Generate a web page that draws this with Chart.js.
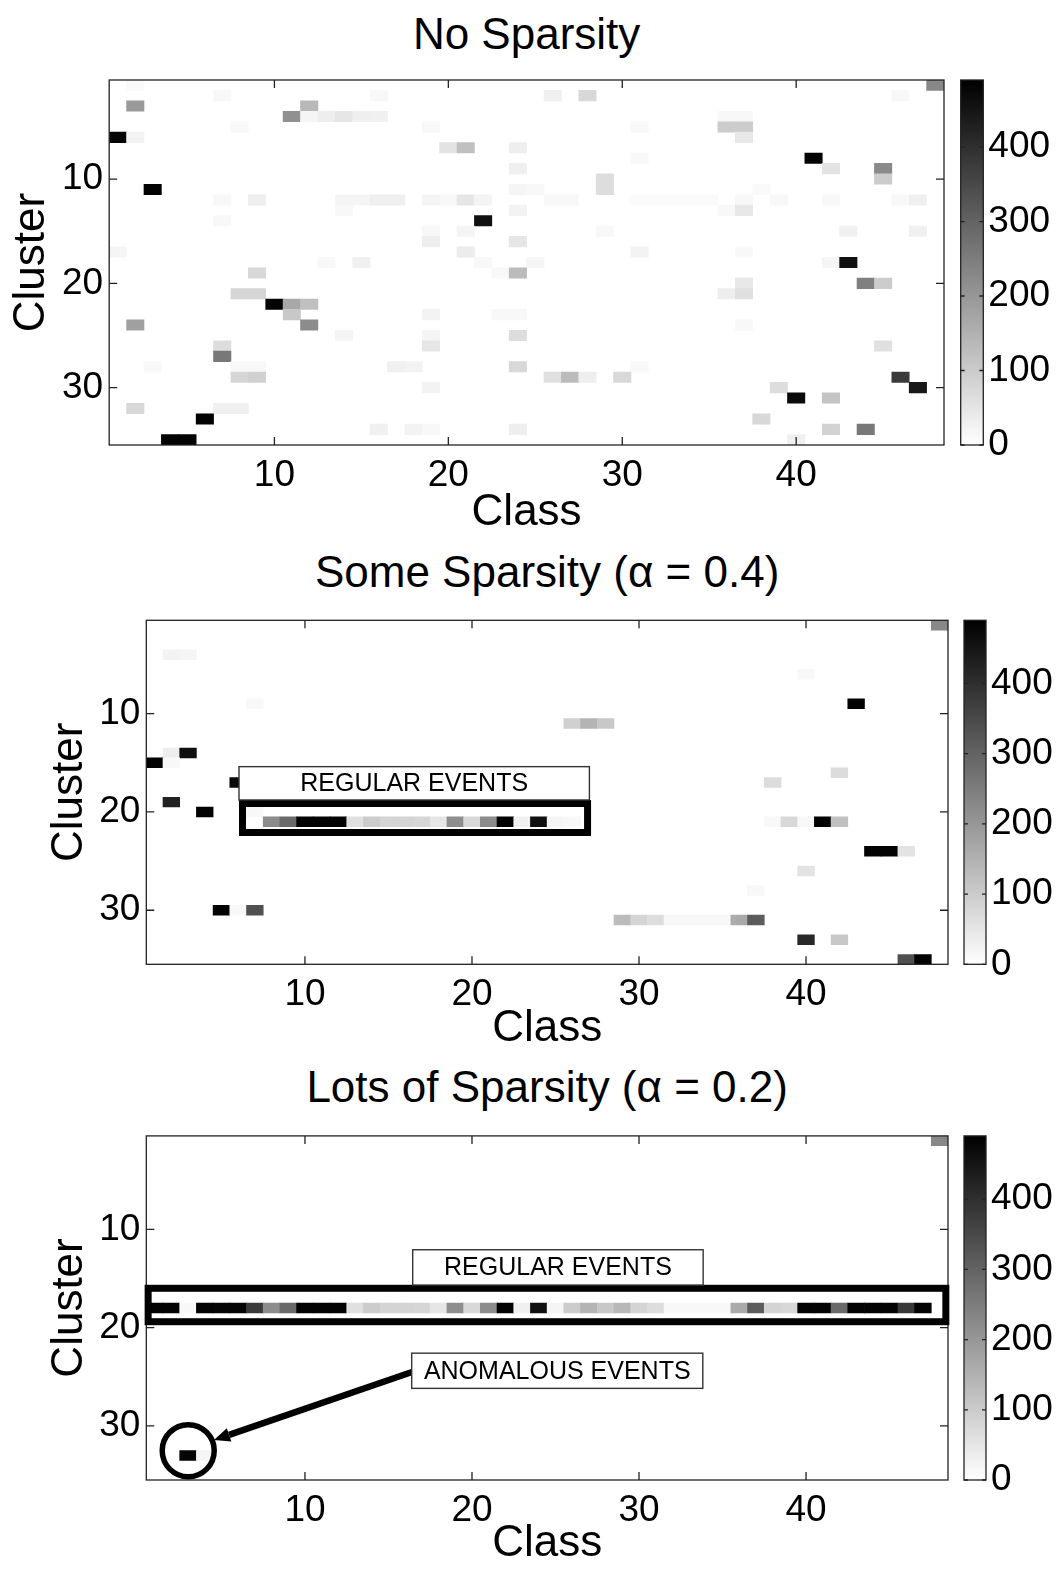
<!DOCTYPE html>
<html>
<head>
<meta charset="utf-8">
<title>Cluster vs class counts</title>
<script src="https://cdn.jsdelivr.net/npm/chart.js@4.4.0/dist/chart.umd.min.js"></script>
<style>
  body { margin: 0; background: #fff; }
  #page { position: relative; width: 1061px; height: 1574px; font-family: "Liberation Sans", Arial, sans-serif; }
  canvas { position: absolute; }
  .ttl { position: absolute; transform: translate(-50%, -50%); font-size: 44px; line-height: 1; white-space: nowrap; color: #000; }
</style>
</head>
<body>
<div id="page"></div>
<script>
// axes
const CLASS_TICKS = [10, 20, 30, 40];
const CLUSTER_TICKS = [10, 20, 30];
const COUNT_TICKS = [0, 100, 200, 300, 400];
const COUNT_MAX = 490;
const NUM_CLASSES = 48;
const NUM_CLUSTERS = 35;

const panelTitles = ["No Sparsity", "Some Sparsity (\u03b1 = 0.4)", "Lots of Sparsity (\u03b1 = 0.2)"];

// [class, cluster, count]
const noSparsity = [
  [2, 1, 10], [48, 1, 229],
  [7, 2, 13], [16, 2, 13], [26, 2, 29], [28, 2, 75], [46, 2, 13],
  [2, 3, 194], [12, 3, 136],
  [11, 4, 213], [12, 4, 19], [13, 4, 33], [14, 4, 48], [15, 4, 31], [16, 4, 29], [36, 4, 13], [37, 4, 13],
  [8, 5, 13], [19, 5, 13], [31, 5, 13], [36, 5, 98], [37, 5, 98],
  [1, 6, 480], [2, 6, 23], [37, 6, 44],
  [20, 7, 54], [21, 7, 121], [24, 7, 33],
  [31, 8, 13], [41, 8, 485],
  [24, 9, 31], [42, 9, 54], [45, 9, 225],
  [29, 10, 65], [45, 10, 98],
  [3, 11, 485], [24, 11, 19], [25, 11, 13], [29, 11, 65], [38, 11, 10],
  [7, 12, 13], [9, 12, 33], [14, 12, 19], [15, 12, 19], [16, 12, 31], [17, 12, 31], [19, 12, 19],
  [20, 12, 13], [21, 12, 48], [22, 12, 21], [26, 12, 13], [27, 12, 13], [31, 12, 10], [32, 12, 10],
  [33, 12, 10], [34, 12, 10], [35, 12, 10], [37, 12, 13], [39, 12, 13], [42, 12, 13], [46, 12, 13], [47, 12, 29],
  [14, 13, 13], [24, 13, 23], [36, 13, 13], [37, 13, 44],
  [7, 14, 13], [22, 14, 459],
  [19, 15, 13], [21, 15, 21], [29, 15, 13], [43, 15, 29], [47, 15, 29],
  [19, 16, 33], [24, 16, 48],
  [1, 17, 19], [21, 17, 37], [31, 17, 23], [37, 17, 13],
  [13, 18, 13], [15, 18, 29], [22, 18, 13], [25, 18, 19], [42, 18, 19], [43, 18, 459],
  [9, 19, 75], [23, 19, 13], [24, 19, 131],
  [37, 20, 44], [44, 20, 244], [45, 20, 98],
  [8, 21, 79], [9, 21, 79], [36, 21, 33], [37, 21, 60],
  [10, 22, 485], [11, 22, 167], [12, 22, 121],
  [11, 23, 106], [19, 23, 23], [23, 23, 13], [24, 23, 13],
  [2, 24, 183], [12, 24, 221], [37, 24, 13],
  [14, 25, 19], [19, 25, 19], [24, 25, 65],
  [7, 26, 65], [19, 26, 48], [45, 26, 60],
  [7, 27, 259],
  [3, 28, 13], [8, 28, 13], [9, 28, 13], [17, 28, 29], [18, 28, 23], [24, 28, 75], [31, 28, 13],
  [8, 29, 79], [9, 29, 90], [26, 29, 60], [27, 29, 131], [28, 29, 33], [30, 29, 75], [46, 29, 379],
  [19, 30, 23], [39, 30, 65], [47, 30, 444],
  [40, 31, 470], [42, 31, 113],
  [2, 32, 75], [7, 32, 29], [8, 32, 29],
  [6, 33, 485], [38, 33, 75],
  [16, 34, 29], [18, 34, 23], [19, 34, 13], [24, 34, 33], [42, 34, 86], [44, 34, 259],
  [4, 35, 485], [5, 35, 485], [40, 35, 29]
];

const someSparsity = [
  [48, 1, 229],
  [2, 4, 23], [3, 4, 19],
  [40, 6, 13],
  [7, 9, 13], [43, 9, 485],
  [26, 11, 90], [27, 11, 144], [28, 11, 106],
  [2, 14, 33], [3, 14, 459],
  [1, 15, 485], [2, 15, 13],
  [42, 16, 67],
  [6, 17, 470], [38, 17, 67],
  [2, 19, 425],
  [4, 20, 485], [7, 20, 13],
  [8, 21, 221], [9, 21, 286], [10, 21, 485], [11, 21, 485], [12, 21, 485], [13, 21, 60],
  [14, 21, 98], [15, 21, 83], [16, 21, 83], [17, 21, 79], [18, 21, 48], [19, 21, 217],
  [20, 21, 75], [21, 21, 221], [22, 21, 485], [23, 21, 29], [24, 21, 459], [25, 21, 19],
  [26, 21, 13], [38, 21, 13], [39, 21, 75], [40, 21, 13], [41, 21, 485], [42, 21, 121],
  [44, 24, 485], [45, 24, 485], [46, 24, 54],
  [40, 26, 54],
  [37, 28, 13],
  [5, 30, 485], [6, 30, 13], [7, 30, 336],
  [29, 31, 131], [30, 31, 83], [31, 31, 65], [32, 31, 13], [33, 31, 13], [34, 31, 13],
  [35, 31, 13], [36, 31, 163], [37, 31, 313],
  [40, 33, 413], [42, 33, 106],
  [46, 35, 336], [47, 35, 485]
];

// cluster 18 holds almost every class once sparsity is strong
const lotsRegularCluster = 18;
const lotsRegular = [
  485, 485, 13, 485, 480, 480, 379, 221, 286, 485, 485, 485, 60, 98, 83, 83,
  79, 48, 217, 75, 221, 485, 29, 459, 19, 98, 144, 106, 136, 83, 65, 13,
  13, 13, 13, 163, 313, 83, 75, 485, 485, 286, 485, 485, 485, 382, 485, 0
];
const lotsOther = [[48, 1, 229], [3, 33, 480], [4, 33, 19]];

const lotsSparsity = lotsRegular
  .map((n, i) => [i + 1, lotsRegularCluster, n])
  .filter(c => c[2] > 0)
  .concat(lotsOther);

Chart.defaults.font.family = '"Liberation Sans", Arial, sans-serif';
Chart.defaults.color = "#000";

const FONT_TICK = 37;
const FONT_TITLE = 44;
const HALF_LINE = FONT_TITLE * 1.2 / 2;

function shade(v) {
  const g = Math.round(255 * (1 - Math.min(v, COUNT_MAX) / COUNT_MAX));
  return "rgb(" + g + "," + g + "," + g + ")";
}

// box around the plot with MATLAB-style inward ticks
function boxTicks(len) {
  return {
    id: "boxTicks",
    afterDatasetsDraw(chart) {
      const { ctx, chartArea: a, scales } = chart;
      ctx.save();
      ctx.strokeStyle = "#222";
      ctx.lineWidth = 1.3;
      ctx.beginPath();
      if (scales.x.options.display) {
        scales.x.ticks.forEach(t => {
          const p = scales.x.getPixelForValue(t.value);
          ctx.moveTo(p, a.bottom); ctx.lineTo(p, a.bottom - len);
          ctx.moveTo(p, a.top); ctx.lineTo(p, a.top + len);
        });
      }
      scales.y.ticks.forEach(t => {
        const p = scales.y.getPixelForValue(t.value);
        ctx.moveTo(a.left, p); ctx.lineTo(a.left + len, p);
        ctx.moveTo(a.right, p); ctx.lineTo(a.right - len, p);
      });
      ctx.stroke();
      ctx.strokeRect(a.left, a.top, a.right - a.left, a.bottom - a.top);
      ctx.restore();
    }
  };
}

// text boxes, highlight frames, ring and arrow, placed in class/cluster units
function callouts(list) {
  return {
    id: "callouts",
    afterDraw(chart) {
      const { ctx, scales: { x, y } } = chart;
      const px = v => x.getPixelForValue(v);
      const py = v => y.getPixelForValue(v);
      ctx.save();
      list.forEach(c => {
        if (c.kind === "frame") {
          ctx.strokeStyle = "#000";
          ctx.lineWidth = c.width;
          ctx.strokeRect(px(c.x0), py(c.y0), px(c.x1) - px(c.x0), py(c.y1) - py(c.y0));
        } else if (c.kind === "label") {
          const l = px(c.x0), t = py(c.y0), w = px(c.x1) - l, h = py(c.y1) - t;
          ctx.fillStyle = "#fff";
          ctx.fillRect(l, t, w, h);
          ctx.strokeStyle = "#333";
          ctx.lineWidth = 1.4;
          ctx.strokeRect(l, t, w, h);
          ctx.fillStyle = "#000";
          ctx.font = "25px " + Chart.defaults.font.family;
          ctx.textAlign = "center";
          ctx.textBaseline = "middle";
          ctx.fillText(c.text, l + w / 2, t + h / 2 + 1);
        } else if (c.kind === "ring") {
          ctx.strokeStyle = "#000";
          ctx.lineWidth = c.width;
          ctx.beginPath();
          ctx.arc(px(c.x), py(c.y), c.r, 0, Math.PI * 2);
          ctx.stroke();
        } else if (c.kind === "arrow") {
          const x0 = px(c.x0), y0 = py(c.y0), x1 = px(c.x1), y1 = py(c.y1);
          const ang = Math.atan2(y1 - y0, x1 - x0);
          const head = 16, half = 7;
          const bx = x1 - head * Math.cos(ang), by = y1 - head * Math.sin(ang);
          ctx.strokeStyle = "#000";
          ctx.lineWidth = c.width;
          ctx.beginPath();
          ctx.moveTo(x0, y0);
          ctx.lineTo(bx, by);
          ctx.stroke();
          ctx.fillStyle = "#000";
          ctx.beginPath();
          ctx.moveTo(x1, y1);
          ctx.lineTo(bx + half * Math.sin(ang), by - half * Math.cos(ang));
          ctx.lineTo(bx - half * Math.sin(ang), by + half * Math.cos(ang));
          ctx.closePath();
          ctx.fill();
        }
      });
      ctx.restore();
    }
  };
}

const colorRamp = {
  id: "colorRamp",
  beforeDatasetsDraw(chart) {
    const { ctx, chartArea: a, scales: { y } } = chart;
    const g = ctx.createLinearGradient(0, y.getPixelForValue(0), 0, y.getPixelForValue(COUNT_MAX));
    g.addColorStop(0, shade(0));
    g.addColorStop(1, shade(COUNT_MAX));
    ctx.save();
    ctx.fillStyle = g;
    ctx.fillRect(a.left, a.top, a.right - a.left, a.bottom - a.top);
    ctx.restore();
  }
};

const page = document.getElementById("page");

function addCanvas(left, top, w, h) {
  const c = document.createElement("canvas");
  c.width = w; c.height = h;
  c.style.left = left + "px";
  c.style.top = top + "px";
  c.style.width = w + "px";
  c.style.height = h + "px";
  page.appendChild(c);
  return c;
}

const HEAT_W = 954;
const BAR_LEFT = 940;
const BAR_W = 121;
const noGrid = { display: false, drawTicks: false };

function drawPanel(title, cells, g, notes) {
  const t = document.createElement("div");
  t.className = "ttl";
  t.textContent = title;
  t.style.left = (g.plotLeft + g.plotRight) / 2 + "px";
  t.style.top = g.titleY + "px";
  page.appendChild(t);

  const bottom = g.top + g.height;

  new Chart(addCanvas(0, g.top, HEAT_W, g.height), {
    type: "bar",
    data: {
      datasets: [{
        data: cells.map(([cls, k, n]) => ({ x: cls, y: [k - 0.5, k + 0.5], n: n })),
        backgroundColor: ctx => ctx.raw ? shade(ctx.raw.n) : "#000",
        borderWidth: 0,
        barPercentage: 1,
        categoryPercentage: 1
      }]
    },
    options: {
      responsive: false,
      animation: false,
      events: [],
      layout: { padding: { top: g.plotTop - g.top, right: HEAT_W - g.plotRight, left: 0, bottom: 0 } },
      plugins: { legend: { display: false }, tooltip: { enabled: false } },
      scales: {
        x: {
          type: "linear", offset: false, min: 0.5, max: NUM_CLASSES + 0.5,
          grid: noGrid, border: { display: false },
          afterBuildTicks: s => { s.ticks = CLASS_TICKS.map(v => ({ value: v })); },
          afterFit: s => { s.height = bottom - g.plotBottom; },
          ticks: { font: { size: FONT_TICK }, padding: 8.5, maxRotation: 0, callback: v => v },
          title: { display: true, text: "Class", font: { size: FONT_TITLE }, padding: { top: 0, bottom: bottom - g.classY - HALF_LINE } }
        },
        y: {
          type: "linear", reverse: true, min: 0.5, max: NUM_CLUSTERS + 0.5,
          grid: noGrid, border: { display: false },
          afterBuildTicks: s => { s.ticks = CLUSTER_TICKS.map(v => ({ value: v })); },
          afterFit: s => { s.width = g.plotLeft; },
          ticks: { font: { size: FONT_TICK }, padding: 6, callback: v => v },
          title: { display: true, text: "Cluster", font: { size: FONT_TITLE }, padding: { top: g.clusterX - HALF_LINE, bottom: 0 } }
        }
      }
    },
    plugins: [boxTicks(8), callouts(notes)]
  });

  // colour bar
  new Chart(addCanvas(BAR_LEFT, g.top, BAR_W, g.height), {
    type: "bar",
    data: { labels: [], datasets: [] },
    options: {
      responsive: false,
      animation: false,
      events: [],
      layout: { padding: { top: g.plotTop - g.top, bottom: bottom - g.plotBottom, left: g.barLeft - BAR_LEFT, right: 0 } },
      plugins: { legend: { display: false }, tooltip: { enabled: false } },
      scales: {
        x: { display: false },
        y: {
          type: "linear", position: "right", min: 0, max: COUNT_MAX,
          grid: noGrid, border: { display: false },
          afterBuildTicks: s => { s.ticks = COUNT_TICKS.map(v => ({ value: v })); },
          afterFit: s => { s.width = BAR_W - (g.barRight - BAR_LEFT); },
          ticks: { font: { size: FONT_TICK }, padding: 5, callback: v => v }
        }
      }
    },
    plugins: [colorRamp, boxTicks(4)]
  });
}

drawPanel(panelTitles[0], noSparsity, {
  top: 0, height: 540, plotLeft: 109.2, plotRight: 944, plotTop: 80, plotBottom: 445,
  titleY: 34, clusterX: 32, classY: 513, barLeft: 960.7, barRight: 983.3
}, []);

drawPanel(panelTitles[1], someSparsity, {
  top: 540, height: 516, plotLeft: 146.3, plotRight: 948, plotTop: 620.3, plotBottom: 964.3,
  titleY: 572, clusterX: 70.3, classY: 1029, barLeft: 964, barRight: 986
}, [
  { kind: "frame", x0: 6.26, x1: 26.92, y0: 19.14, y1: 22.09, width: 7 },
  { kind: "label", text: "REGULAR EVENTS", x0: 6.05, x1: 27.03, y0: 15.39, y1: 18.78 }
]);

drawPanel(panelTitles[2], lotsSparsity, {
  top: 1056, height: 518, plotLeft: 146.3, plotRight: 948, plotTop: 1135.9, plotBottom: 1480,
  titleY: 1087, clusterX: 70.3, classY: 1544, barLeft: 964, barRight: 986
}, [
  { kind: "frame", x0: 0.61, x1: 48.37, y0: 16.0, y1: 19.4, width: 7 },
  { kind: "arrow", x0: 16.41, y0: 24.52, x1: 4.55, y1: 31.44, width: 6.5 },
  { kind: "label", text: "REGULAR EVENTS", x0: 16.45, x1: 33.84, y0: 12.08, y1: 15.67 },
  { kind: "label", text: "ANOMALOUS EVENTS", x0: 16.39, x1: 33.82, y0: 22.6, y1: 26.18 },
  { kind: "ring", x: 3.01, y: 32.52, r: 26, width: 5.5 }
]);
</script>
</body>
</html>
